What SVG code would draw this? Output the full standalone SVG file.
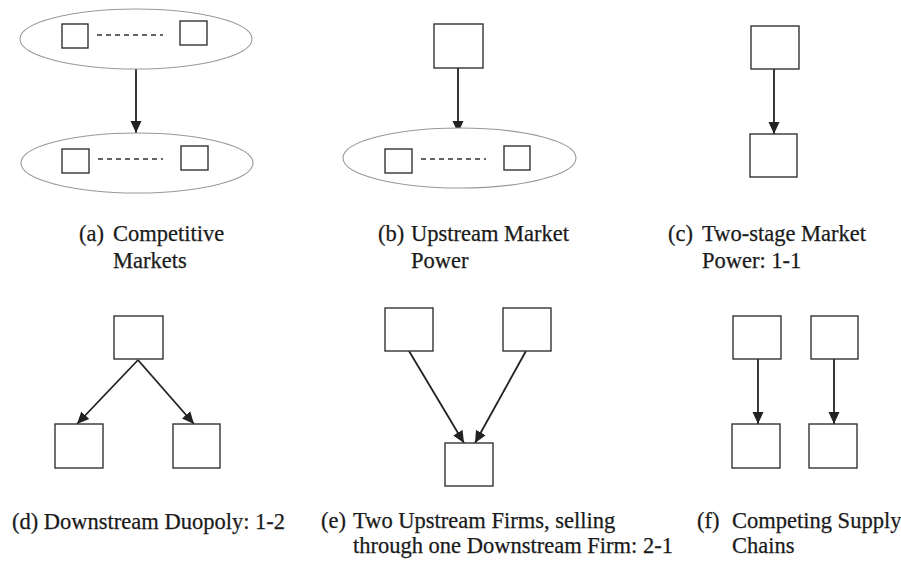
<svg xmlns="http://www.w3.org/2000/svg" width="901" height="564" viewBox="0 0 901 564">
<style>
.box{fill:#fff;stroke:#333;stroke-width:1.4}
.ell{fill:#fff;stroke:#999;stroke-width:1.1}
.dash{stroke:#333;stroke-width:1.3;stroke-dasharray:5,4;fill:none}
.arr{stroke:#222;stroke-width:1.8;fill:none;marker-end:url(#ah)}
.lbl{font-family:"Liberation Serif","Times New Roman",serif;font-size:22.5px;fill:#1a1a1a;stroke:#1a1a1a;stroke-width:0.25}
</style>
<defs>
<marker id="ah" markerUnits="userSpaceOnUse" markerWidth="12" markerHeight="12" viewBox="0 0 12 12" refX="12" refY="6" orient="auto">
<path d="M0,0.5 L12,6 L0,11.5 Z" fill="#222"/>
</marker>
</defs>
<rect width="901" height="564" fill="#fff"/>
<g id="connectors">
<line class="arr" x1="136" y1="69" x2="136" y2="133"/>
<line class="arr" x1="458" y1="68" x2="458" y2="133"/>
<line class="arr" x1="774" y1="69" x2="774" y2="134"/>
<line class="arr" x1="138" y1="360" x2="77" y2="424"/>
<line class="arr" x1="138" y1="360" x2="194" y2="424"/>
<line class="arr" x1="409" y1="351" x2="464" y2="443"/>
<line class="arr" x1="526" y1="351" x2="475" y2="443"/>
<line class="arr" x1="758" y1="359" x2="758" y2="424"/>
<line class="arr" x1="834" y1="359" x2="834" y2="424"/>
</g>
<g id="a-upstream">
<ellipse class="ell" cx="136" cy="39" rx="116" ry="30"/>
<rect class="box" x="62" y="24" width="26" height="24"/>
<line class="dash" x1="97" y1="35" x2="163" y2="35"/>
<rect class="box" x="180" y="21" width="27" height="24"/>
</g>
<g id="a-downstream">
<ellipse class="ell" cx="137" cy="163" rx="116" ry="30"/>
<rect class="box" x="62" y="149" width="27" height="24"/>
<line class="dash" x1="98" y1="159" x2="163" y2="159"/>
<rect class="box" x="181" y="146" width="27" height="24"/>
</g>
<g id="b-upstream">
<rect class="box" x="434" y="24" width="49" height="44"/>
</g>
<g id="b-downstream">
<ellipse class="ell" cx="459.5" cy="158" rx="116.5" ry="30"/>
<rect class="box" x="385" y="149" width="27" height="24"/>
<line class="dash" x1="421" y1="159" x2="486" y2="159"/>
<rect class="box" x="504" y="146" width="26" height="24"/>
</g>
<g id="c-upstream"><rect class="box" x="751" y="26" width="48" height="43"/></g>
<g id="c-downstream"><rect class="box" x="750" y="134" width="47" height="43"/></g>
<g id="d-upstream"><rect class="box" x="114" y="316" width="49" height="43"/></g>
<g id="d-down1"><rect class="box" x="55" y="424" width="48" height="44"/></g>
<g id="d-down2"><rect class="box" x="173" y="424" width="47" height="44"/></g>
<g id="e-up1"><rect class="box" x="385" y="308" width="48" height="43"/></g>
<g id="e-up2"><rect class="box" x="503" y="308" width="48" height="43"/></g>
<g id="e-down"><rect class="box" x="445" y="443" width="48" height="43"/></g>
<g id="f-up1"><rect class="box" x="733" y="316" width="48" height="43"/></g>
<g id="f-up2"><rect class="box" x="811" y="316" width="47" height="43"/></g>
<g id="f-down1"><rect class="box" x="732" y="424" width="48" height="44"/></g>
<g id="f-down2"><rect class="box" x="809" y="424" width="48" height="44"/></g>
<g id="labels">
<text class="lbl" x="79" y="241">(a)</text>
<text class="lbl" x="113" y="241">Competitive</text>
<text class="lbl" x="113" y="268">Markets</text>
<text class="lbl" x="378" y="241">(b)</text>
<text class="lbl" x="411" y="241">Upstream Market</text>
<text class="lbl" x="411" y="268">Power</text>
<text class="lbl" x="668" y="241">(c)</text>
<text class="lbl" x="702" y="241">Two-stage Market</text>
<text class="lbl" x="702" y="268">Power: 1-1</text>
<text class="lbl" x="12" y="529">(d) Downstream Duopoly: 1-2</text>
<text class="lbl" x="321" y="528">(e)</text>
<text class="lbl" x="353" y="528">Two Upstream Firms, selling</text>
<text class="lbl" x="353" y="553">through one Downstream Firm: 2-1</text>
<text class="lbl" x="697" y="528">(f)</text>
<text class="lbl" x="732" y="528">Competing Supply</text>
<text class="lbl" x="732" y="553">Chains</text>
</g>
</svg>
